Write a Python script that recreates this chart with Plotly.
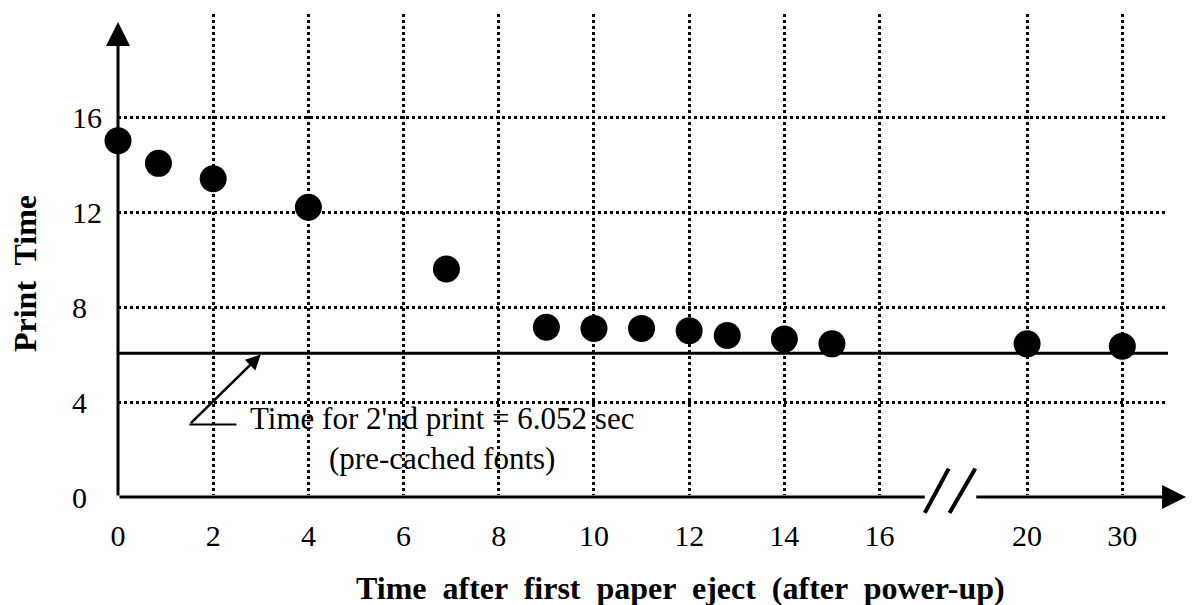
import plotly.graph_objects as go

# ---- data ----
x_values = [0, 0.85, 2, 4, 6.9, 9, 10, 11, 12, 12.8, 14, 15, 20, 30]
print_time = [15.0, 14.05, 13.4, 12.2, 9.6, 7.15, 7.1, 7.1, 7.0, 6.8, 6.65, 6.45, 6.45, 6.35]
x_tick_values = [0, 2, 4, 6, 8, 10, 12, 14, 16, 20, 30]
y_tick_values = [0, 4, 8, 12, 16]
y_tick_labels = ["0\u2007", "4\u2007", "8\u2007", "12", "16"]
second_print_time = 6.052
# broken x axis: values after the break are drawn at compressed positions
break_positions = {20: 19.1, 30: 21.1}
break_start, break_end = 16.95, 18.0
x_arrow_tip, y_arrow_tip = 22.44, 20.0
x_max, y_max = 22.06, 20.34

FONT = "Liberation Serif"


def axis_pos(v):
    return break_positions.get(v, v)


xp = [axis_pos(v) for v in x_values]
tick_pos = [axis_pos(v) for v in x_tick_values]

fig = go.Figure()
fig.add_trace(go.Scatter(
    x=xp, y=print_time, mode="markers",
    marker=dict(size=27, color="black"),
    cliponaxis=False, showlegend=False, hoverinfo="skip"))

# horizontal reference line (time for 2nd print)
fig.add_shape(type="line", xref="paper", x0=0, x1=1, yref="y",
              y0=second_print_time, y1=second_print_time,
              line=dict(color="black", width=3))

ann = []
line_kw = dict(text="", showarrow=True, xref="x", yref="y", axref="x", ayref="y",
               arrowcolor="black")
# y axis with arrow
ann.append(dict(line_kw, x=0, y=y_arrow_tip, ax=0, ay=0, arrowhead=2, arrowsize=1.6, arrowwidth=3))
# x axis, first segment
ann.append(dict(line_kw, x=break_start, y=0, ax=0, ay=0, arrowhead=0, arrowwidth=3))
# x axis, second segment with arrow
ann.append(dict(line_kw, x=x_arrow_tip, y=0, ax=break_end, ay=0, arrowhead=2, arrowsize=1.6, arrowwidth=3))
# break marks //
ann.append(dict(line_kw, x=break_start, y=-0.67, ax=break_start + 0.52, ay=1.26, arrowhead=0, arrowwidth=4))
ann.append(dict(line_kw, x=break_start + 0.52, y=-0.67, ax=break_end + 0.03, ay=1.26, arrowhead=0, arrowwidth=4))
# pointer to the reference line
ann.append(dict(line_kw, x=3.0, y=6.0, ax=1.5, ay=3.05, arrowhead=2, arrowsize=1.2, arrowwidth=2.5))
ann.append(dict(line_kw, x=1.5, y=3.05, ax=2.52, ay=3.05, arrowhead=0, arrowwidth=2))
# label text (two lines)
ann.append(dict(text="Time for 2'nd print = 6.052 sec<br>(pre-cached fonts)", x=6.8, y=2.45,
                xref="x", yref="y", align="center",
                showarrow=False, font=dict(family=FONT, size=31, color="black")))
# axis titles
ann.append(dict(text="<b>Time  after  first  paper  eject  (after  power-up)</b>", x=11.82, xref="x",
                xanchor="center", y=0, yref="paper", yanchor="middle", yshift=-91, showarrow=False,
                font=dict(family=FONT, size=32, color="black")))
ann.append(dict(text="<b>Print  Time</b>", x=0, xref="paper", xanchor="center", xshift=-93,
                y=9.39, yref="y", yanchor="middle",
                textangle=-90, showarrow=False,
                font=dict(family=FONT, size=32, color="black")))

# the page body adds an 8px offset, so the figure is 8px smaller on each axis
fig.update_layout(
    template="none",
    width=1187, height=597,
    margin=dict(l=110, r=27, t=6, b=108, autoexpand=False),
    paper_bgcolor="white", plot_bgcolor="white",
    annotations=ann,
    font=dict(family=FONT, size=30, color="black"),
)
fig.update_xaxes(range=[0, x_max], tickmode="array", tickvals=tick_pos,
                 ticktext=[str(v) for v in x_tick_values], automargin=False,
                 showgrid=True, gridcolor="black", gridwidth=2.5, griddash="dot",
                 zeroline=False, showline=False,
                 ticks="outside", ticklen=12, tickcolor="rgba(0,0,0,0)",
                 tickfont=dict(family=FONT, size=30, color="black"))
fig.update_yaxes(range=[0, y_max], tickmode="array", tickvals=y_tick_values,
                 ticktext=y_tick_labels, automargin=False,
                 showgrid=True, gridcolor="black", gridwidth=2.5, griddash="dot",
                 zeroline=True, zerolinecolor="white", zerolinewidth=4, showline=False,
                 ticks="outside", ticklen=9, tickcolor="rgba(0,0,0,0)",
                 tickfont=dict(family=FONT, size=30, color="black"))

fig.write_html("out.html")
